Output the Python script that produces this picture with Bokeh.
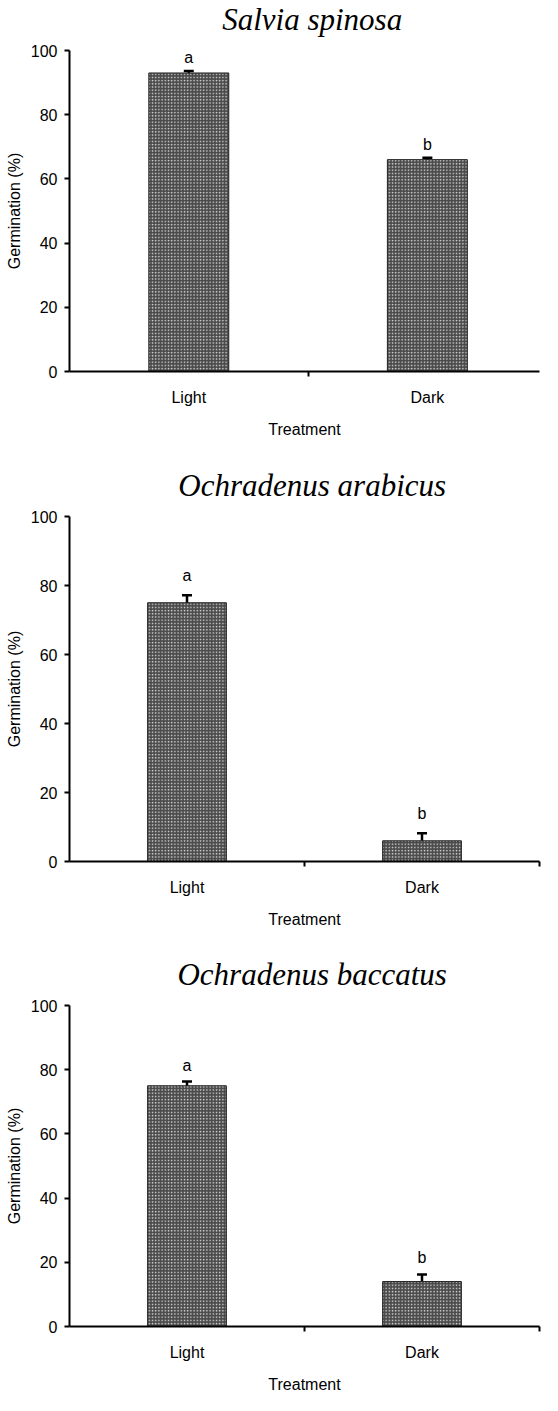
from bokeh.plotting import figure
from bokeh.models import Range1d, FixedTicker, ColumnDataSource, Whisker
from bokeh.layouts import column
from bokeh.embed import file_html
from bokeh.resources import INLINE
from bokeh.core.properties import value

# ---- data ----
treatments = ["Light", "Dark"]
species = ["Salvia spinosa", "Ochradenus arabicus", "Ochradenus baccatus"]
germ_salvia = [93, 66]
err_salvia = [0.6, 0.6]
germ_arabicus = [75, 6]
err_arabicus = [2.2, 2.2]
germ_baccatus = [75, 14]
err_baccatus = [1.3, 2.2]
letters = ["a", "b"]
y_ticks = [0, 20, 40, 60, 80, 100]
x_label = "Treatment"
y_label = "Germination (%)"

SANS = "Liberation Sans"
SERIF = "Liberation Serif"
FIG_W = 550
TITLE_H = 40


def make_title(name):
    t = figure(width=FIG_W, height=TITLE_H, output_backend="svg", toolbar_location=None,
               x_range=Range1d(0, FIG_W), y_range=Range1d(0, TITLE_H),
               min_border=0, min_border_left=0, min_border_right=0,
               min_border_top=0, min_border_bottom=0)
    t.axis.visible = False
    t.grid.visible = False
    t.outline_line_color = None
    t.text(x=[284], y=[21], text=[name], text_align="center",
           text_baseline="alphabetic", text_font=value(SERIF),
           text_font_style="italic", text_font_size="31px", text_color="black")
    return t


def make_panel(means, errs, height, frame_h, x_end, border_right, boundaries,
               fs, letter_off):
    border_top = 10
    border_bottom = height - border_top - frame_h
    p = figure(width=FIG_W, height=height, output_backend="svg", toolbar_location=None,
               x_range=Range1d(0, x_end), y_range=Range1d(0, 100),
               min_border_left=69, min_border_right=border_right,
               min_border_top=border_top, min_border_bottom=border_bottom)
    p.outline_line_color = None
    p.grid.visible = False

    xs = [i + 0.5 for i in range(len(treatments))]
    tops = [m + e for m, e in zip(means, errs)]
    src = ColumnDataSource(dict(x=xs, top=means, lower=[m - e for m, e in zip(means, errs)],
                                upper=tops, letter=letters))
    p.vbar(x="x", top="top", bottom=0, width=0.335, source=src,
           fill_color="#4a4a4a", line_color="#222222", line_width=1,
           hatch_pattern="dot", hatch_color="#d8d8d8", hatch_scale=3.2, hatch_weight=1)
    w = Whisker(base="x", lower="lower", upper="upper", source=src,
                line_color="black", line_width=2.5)
    w.upper_head.size = 10
    w.lower_head.size = 10
    w.upper_head.line_width = 2.5
    w.lower_head.line_width = 2.5
    p.add_layout(w)
    p.text(x="x", y="upper", text="letter", source=src, text_align="center",
           text_baseline="bottom", y_offset=letter_off, text_font=value(SANS),
           text_font_size=f"{fs}px", text_color="black")

    # x axis
    xa = p.xaxis[0]
    xa.ticker = FixedTicker(ticks=xs, minor_ticks=boundaries)
    xa.major_label_overrides = {x: t for x, t in zip(xs, treatments)}
    xa.major_tick_out = 0
    xa.major_tick_in = 0
    xa.minor_tick_out = 5
    xa.minor_tick_in = 0
    xa.minor_tick_line_color = "black"
    xa.minor_tick_line_width = 2
    xa.axis_line_width = 2
    xa.axis_line_color = "black"
    xa.major_label_standoff = 12
    xa.major_label_text_font = SANS
    xa.major_label_text_font_size = f"{fs}px"
    xa.major_label_text_color = "black"
    xa.axis_label = x_label
    xa.axis_label_text_font = SANS
    xa.axis_label_text_font_style = "normal"
    xa.axis_label_text_font_size = f"{fs}px"
    xa.axis_label_standoff = 12
    xa.axis_label_text_color = "black"

    ya = p.yaxis[0]
    ya.ticker = FixedTicker(ticks=y_ticks)
    ya.minor_tick_line_color = None
    ya.major_tick_out = 5
    ya.major_tick_in = 0
    ya.major_tick_line_width = 2
    ya.major_tick_line_color = "black"
    ya.axis_line_width = 2
    ya.axis_line_color = "black"
    ya.major_label_standoff = 7
    ya.major_label_text_font = SANS
    ya.major_label_text_font_size = f"{fs}px"
    ya.major_label_text_color = "black"
    ya.axis_label = y_label
    ya.axis_label_text_font = SANS
    ya.axis_label_text_font_style = "normal"
    ya.axis_label_text_font_size = f"{fs}px"
    ya.axis_label_standoff = 5
    ya.axis_label_text_color = "black"
    return p


t1 = make_title(species[0])
p1 = make_panel(germ_salvia, err_salvia, 426, 321, 1.97, 0, [1.0], 16, -5)
t2 = make_title(species[1])
p2 = make_panel(germ_arabicus, err_arabicus, 449, 345, 2.0, 3, [1.0, 2.0], 16, -11)
t3 = make_title(species[2])
p3 = make_panel(germ_baccatus, err_baccatus, 400, 335, 2.0, 11, [1.0, 2.0], 16, -8)

layout = column(t1, p1, t2, p2, t3, p3, spacing=0)
open("out.html", "w").write(file_html(layout, INLINE))
